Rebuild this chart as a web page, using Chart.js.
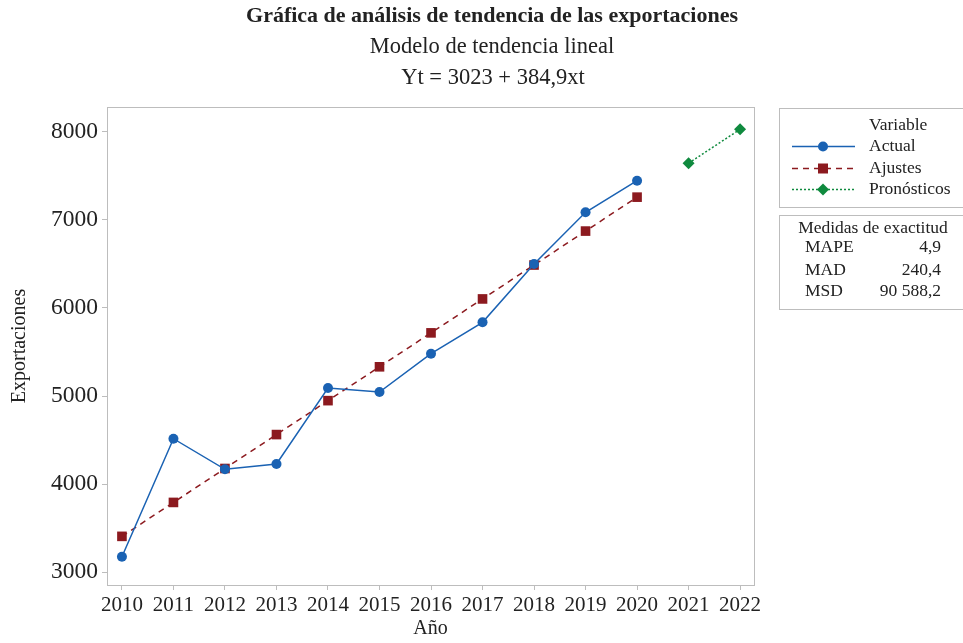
<!DOCTYPE html>
<html>
<head>
<meta charset="utf-8">
<script src="https://cdn.jsdelivr.net/npm/chart.js@4/dist/chart.umd.min.js"></script>
<style>
html,body{margin:0;padding:0;background:#fff;}
#wrap{width:963px;height:643px;position:relative;}
</style>
</head>
<body>
<div id="wrap"><canvas id="c" width="963" height="643"></canvas></div>
<script>
const years = [2010, 2011, 2012, 2013, 2014, 2015, 2016, 2017, 2018, 2019, 2020];
const actual = [3177, 4516, 4169, 4229, 5091, 5046, 5481, 5837, 6499, 7085, 7444];
const fitted = [3408, 3793, 4178, 4563, 4948, 5332, 5717, 6102, 6487, 6872, 7257];
const forecastYears = [2021, 2022];
const forecast = [7642, 8027];
const xTicks = [2010, 2011, 2012, 2013, 2014, 2015, 2016, 2017, 2018, 2019, 2020, 2021, 2022];
const yTicks = [3000, 4000, 5000, 6000, 7000, 8000];
const titleLines = ['Gráfica de análisis de tendencia de las exportaciones', 'Modelo de tendencia lineal', 'Yt = 3023 + 384,9xt'];
const legendLabels = ['Actual', 'Ajustes', 'Pronósticos'];
const accuracyNames = ['MAPE', 'MAD', 'MSD'];
const accuracyValues = ['4,9', '240,4', '90 588,2'];

const BLUE = '#1a62b3';
const RED = '#8c1a1f';
const GREEN = '#0f8a3e';
const SERIF = '"Liberation Serif", "DejaVu Serif", serif';
const TEXT = '#222';
const FRAME = '#bdbdbd';

const pts = (xs, ys) => xs.map((x, i) => ({x: x, y: ys[i]}));

const overlay = {
  id: 'overlay',
  afterDraw(chart) {
    const ctx = chart.ctx;
    const a = chart.chartArea;
    ctx.save();
    // frame
    ctx.strokeStyle = FRAME;
    ctx.lineWidth = 1;
    ctx.strokeRect(Math.round(a.left) + 0.5, Math.round(a.top) + 0.5, Math.round(a.right - a.left), Math.round(a.bottom - a.top));
    // titles
    ctx.fillStyle = TEXT;
    ctx.textAlign = 'center';
    ctx.textBaseline = 'middle';
    ctx.font = 'bold 22px ' + SERIF;
    ctx.fillText(titleLines[0], 492, 16);
    ctx.font = '22.5px ' + SERIF;
    ctx.fillText(titleLines[1], 492, 47);
    ctx.fillText(titleLines[2], 493, 78);

    // legend box
    ctx.strokeStyle = FRAME;
    ctx.strokeRect(779.5, 108.5, 190, 99);
    ctx.strokeRect(779.5, 215.5, 190, 94);
    ctx.font = '17.5px ' + SERIF;
    ctx.textAlign = 'left';
    ctx.fillStyle = TEXT;
    ctx.fillText('Variable', 869, 125);
    const rows = [146.5, 168.5, 189.5];
    const colors = [BLUE, RED, GREEN];
    const dashes = [[], [6, 5], [2, 2]];
    for (let i = 0; i < 3; i++) {
      const y = rows[i];
      ctx.strokeStyle = colors[i];
      ctx.lineWidth = 1.5;
      ctx.setLineDash(dashes[i]);
      ctx.beginPath();
      ctx.moveTo(792, y);
      ctx.lineTo(855, y);
      ctx.stroke();
      ctx.setLineDash([]);
      ctx.fillStyle = colors[i];
      ctx.beginPath();
      if (i === 0) {
        ctx.arc(823, y, 5, 0, Math.PI * 2);
      } else if (i === 1) {
        ctx.rect(823 - 5, y - 5, 10, 10);
      } else {
        ctx.moveTo(823, y - 6);
        ctx.lineTo(829, y);
        ctx.lineTo(823, y + 6);
        ctx.lineTo(817, y);
        ctx.closePath();
      }
      ctx.fill();
      ctx.fillStyle = TEXT;
      ctx.fillText(legendLabels[i], 869, y);
    }
    // accuracy table
    ctx.textAlign = 'center';
    ctx.fillText('Medidas de exactitud', 873, 228);
    const arows = [247.5, 270, 291];
    for (let i = 0; i < 3; i++) {
      ctx.textAlign = 'left';
      ctx.fillText(accuracyNames[i], 805, arows[i]);
      ctx.textAlign = 'right';
      ctx.fillText(accuracyValues[i], 941, arows[i]);
    }
    ctx.restore();
  }
};

new Chart(document.getElementById('c'), {
  type: 'line',
  data: {
    datasets: [
      {
        label: legendLabels[0],
        data: pts(years, actual),
        borderColor: BLUE,
        backgroundColor: BLUE,
        borderWidth: 1.5,
        pointStyle: 'circle',
        pointRadius: 5,
        pointBorderWidth: 0,
        tension: 0,
        order: 1
      },
      {
        label: legendLabels[1],
        data: pts(years, fitted),
        borderColor: RED,
        backgroundColor: RED,
        borderWidth: 1.5,
        borderDash: [6, 5],
        pointStyle: 'rect',
        pointRadius: 6.8,
        pointBorderWidth: 0,
        tension: 0,
        order: 2
      },
      {
        label: legendLabels[2],
        data: pts(forecastYears, forecast),
        borderColor: GREEN,
        backgroundColor: GREEN,
        borderWidth: 1.5,
        borderDash: [2, 2],
        pointStyle: 'rectRot',
        pointRadius: 6,
        pointBorderWidth: 0,
        tension: 0,
        order: 3
      }
    ]
  },
  options: {
    responsive: false,
    animation: false,
    devicePixelRatio: 1,
    layout: {padding: {left: 0, top: 107, right: 209, bottom: 0}},
    plugins: {legend: {display: false}, title: {display: false}, tooltip: {enabled: false}},
    scales: {
      x: {
        type: 'linear',
        min: 2009.71,
        max: 2022.27,
        afterFit(s) { s.height = 58; },
        afterBuildTicks(s) { s.ticks = xTicks.map(v => ({value: v})); },
        border: {display: false},
        grid: {drawOnChartArea: false, drawTicks: true, tickLength: 5, color: FRAME},
        ticks: {
          autoSkip: false, maxRotation: 0, padding: 3,
          color: TEXT, font: {family: SERIF, size: 21},
          callback: v => String(v)
        },
        title: {display: true, text: 'Año', color: TEXT, font: {family: SERIF, size: 20}, padding: {top: 0, bottom: 2}}
      },
      y: {
        type: 'linear',
        min: 2856,
        max: 8280,
        afterFit(s) { s.width = 107; },
        afterBuildTicks(s) { s.ticks = yTicks.map(v => ({value: v})); },
        border: {display: false},
        grid: {drawOnChartArea: false, drawTicks: true, tickLength: 5, color: FRAME},
        ticks: {
          padding: 4, color: TEXT, font: {family: SERIF, size: 23.5},
          callback: v => String(v)
        },
        title: {display: true, text: 'Exportaciones', color: TEXT, font: {family: SERIF, size: 20}, padding: {top: 8, bottom: 0}}
      }
    }
  },
  plugins: [overlay]
});
</script>
</body>
</html>
